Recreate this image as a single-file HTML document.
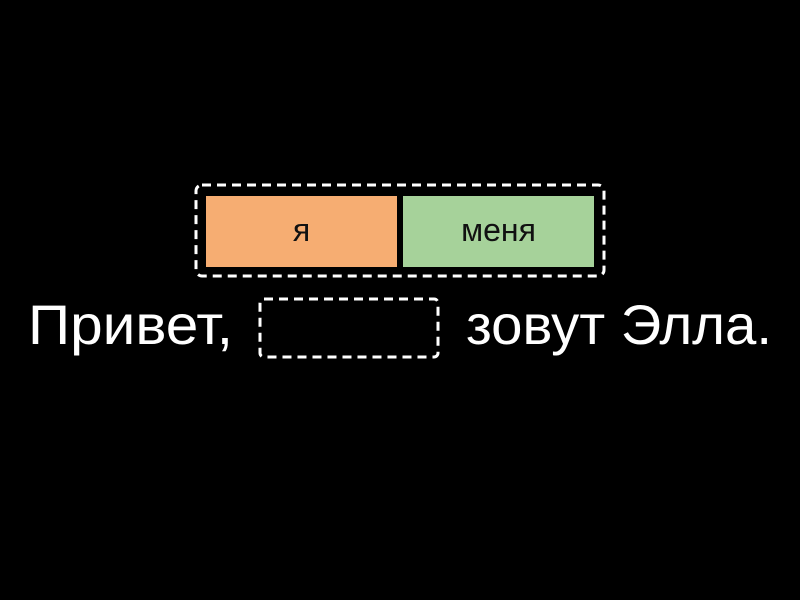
<!DOCTYPE html>
<html><head><meta charset="utf-8"><style>
html,body{margin:0;padding:0;background:#000;width:800px;height:600px;overflow:hidden}
</style></head><body>
<svg width="800" height="600" xmlns="http://www.w3.org/2000/svg" style="display:block">
<rect x="0" y="0" width="800" height="600" fill="#000"/>
<rect x="196" y="185" width="408" height="91" rx="6" fill="none" stroke="#fff" stroke-width="3" stroke-dasharray="9,6"/>
<rect x="206" y="196" width="191" height="71" fill="#f6ad72"/>
<rect x="403" y="196" width="191" height="71" fill="#a6d29a"/>
<text x="301.5" y="241" font-family="Liberation Sans, sans-serif" font-size="32" text-anchor="middle" fill="#111">я</text>
<text x="498.5" y="241" font-family="Liberation Sans, sans-serif" font-size="32" text-anchor="middle" fill="#111">меня</text>
<rect x="260" y="299" width="178" height="58" rx="4" fill="none" stroke="#fff" stroke-width="3" stroke-dasharray="9,6"/>
<text x="28" y="344" font-family="Liberation Sans, sans-serif" font-size="56" fill="#fff" textLength="205" lengthAdjust="spacingAndGlyphs">Привет,</text>
<text x="466" y="344" font-family="Liberation Sans, sans-serif" font-size="56" fill="#fff" textLength="306" lengthAdjust="spacingAndGlyphs">зовут Элла.</text>
</svg>
</body></html>
